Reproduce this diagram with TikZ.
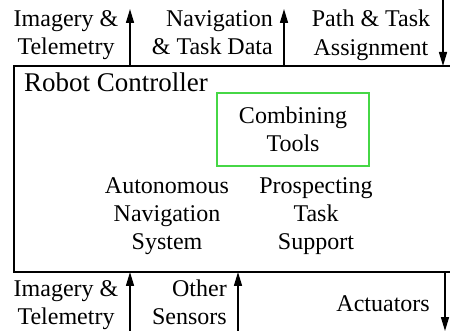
\documentclass[tikz,border=0pt]{standalone}
\usepackage{fontspec}
\setmainfont{Liberation Serif}
\usepackage{tikz}
\usetikzlibrary{arrows.meta}
\definecolor{toolgreen}{RGB}{70,215,70}

\begin{document}
\begin{tikzpicture}[x=1pt, y=-1pt,
    lbl/.style={inner sep=0pt, font=\fontsize{24}{28.3}\selectfont},
    sig/.style={line width=1.5pt, -{Triangle[length=14pt,width=8pt]}}]
  \useasboundingbox (0,0) rectangle (450,331);
  % controller frame (open on the right)
  \draw[line width=1.4pt] (450,66) -- (14,66) -- (14,272) -- (450,272);
  \node[lbl, anchor=base west] (title) at (24,92) {\fontsize{27}{30}\selectfont Robot Controller};
  \node[lbl, align=center, draw=toolgreen, line width=2pt, minimum width=152pt, minimum height=73pt] (tools) at (293,129.4) {Combining\\Tools};
  \node[lbl, align=center] (nav) at (167,216) {Autonomous\\Navigation\\System};
  \node[lbl, align=center] (task) at (316,216) {Prospecting\\Task\\Support};
  % signals above
  \node[lbl, align=center] (imgtop) at (66,35.3) {Imagery \&\\Telemetry};
  \node[lbl, align=right, anchor=east] (navdata) at (273,32.6) {Navigation\\\& Task Data};
  \node[lbl, align=center] (path) at (371,35.3) {Path \& Task\\Assignment};
  % signals below
  \node[lbl, align=center] (imgbot) at (66,304.8) {Imagery \&\\Telemetry};
  \node[lbl, align=right, anchor=east] (sensors) at (227,302.2) {Other\\Sensors};
  \node[lbl, anchor=base east] (act) at (430,312) {Actuators};
  % ports
  \coordinate (c1) at (130,66);  \coordinate (o1) at (130,9);
  \coordinate (c2) at (284,66);  \coordinate (o2) at (284,9);
  \coordinate (i3) at (443,0);   \coordinate (c3) at (443,66);
  \coordinate (i4) at (130,331); \coordinate (c4) at (130,272);
  \coordinate (i5) at (238,331); \coordinate (c5) at (238,272);
  \coordinate (c6) at (445,272); \coordinate (o6) at (445,331);
  \draw[sig] (c1) -- (o1);
  \draw[sig] (c2) -- (o2);
  \draw[sig] (i3) -- (c3);
  \draw[sig] (i4) -- (c4);
  \draw[sig] (i5) -- (c5);
  \draw[sig] (c6) -- (o6);
\end{tikzpicture}
\end{document}
